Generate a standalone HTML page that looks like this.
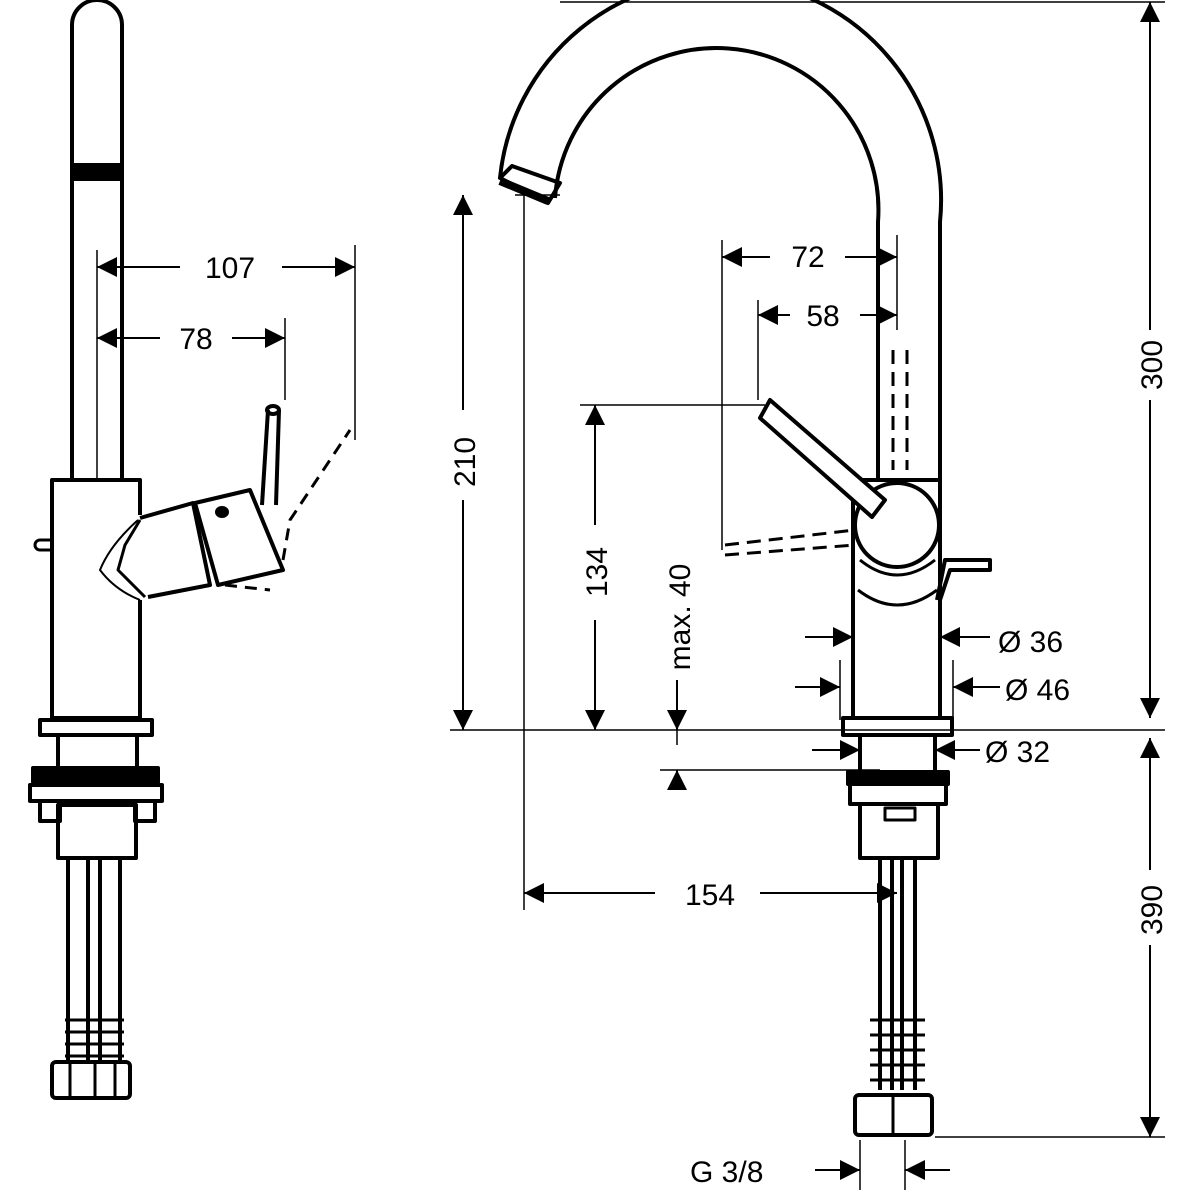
<!DOCTYPE html><html><head><style>html,body{margin:0;background:#fff}svg{display:block}text{font-family:"Liberation Sans",sans-serif;font-size:30px;fill:#000}</style></head><body>
<svg width="1200" height="1200" viewBox="0 0 1200 1200" xmlns="http://www.w3.org/2000/svg">
<defs><marker id="a" viewBox="0 0 10 10" refX="10" refY="5" markerWidth="24" markerHeight="20" markerUnits="userSpaceOnUse" orient="auto-start-reverse"><path d="M0,0L10,5L0,10z"/></marker></defs>
<g fill="none" stroke="#000" stroke-width="4" stroke-linejoin="round">
<!-- LEFT VIEW -->
<path d="M72,480V25A25,25 0 0 1 122,25V480"/>
<rect x="72" y="165" width="50" height="14" fill="#000"/>
<path d="M140,515V480H52V718H140V600"/>
<path d="M52,540H40A5,5 0 0 0 40,550H52" stroke-width="3"/>
<path d="M138,520Q110,545 100,570Q115,590 140,600" stroke-width="2"/>
<path d="M140,520L125,545L118,570L145,597" stroke-width="3"/>
<path d="M140,518L193,503L210,585L148,597"/>
<path d="M195,503L250,490L283,570L218,585Z"/>
<path d="M262,505L268,410M279,410L276,505" stroke-width="4"/>
<ellipse cx="273" cy="410" rx="6" ry="4"/>
<ellipse cx="222" cy="512" rx="5" ry="4" fill="#000"/>
<path d="M225,585L270,590M283,560L290,520L350,430" stroke-dasharray="12,8" stroke-width="3"/>
<path d="M40,720H152V735H40Z"/>
<path d="M58,735V770M137,735V770"/>
<rect x="33" y="768" width="125" height="14" fill="#000"/>
<rect x="30" y="785" width="132" height="16"/>
<rect x="40" y="801" width="20" height="20"/><rect x="135" y="801" width="20" height="20"/>
<rect x="58" y="805" width="78" height="53"/>
<path d="M68,858V1060M88,858V1060M100,858V1060M120,858V1060"/>
<path d="M65,1020H124M65,1032H124M65,1044H124M65,1056H124" stroke-width="3"/>
<rect x="52" y="1062" width="78" height="36" rx="4"/>
<path d="M95,1062V1098M70,1062V1098M115,1062V1098" stroke-width="3"/>
<!-- RIGHT VIEW -->
<path d="M940,480V222A220,220 0 0 0 500,178"/>
<path d="M878,480V222A158,158 0 0 0 555,198"/>
<path d="M500,178L512,166L560,183L548,203Z"/>
<path d="M500,181L548,201" stroke-width="8"/>
<path d="M853,480H940V718H853Z"/>
<path d="M893,350V470M907,350V470" stroke-dasharray="14,8" stroke-width="3"/>
<circle cx="897" cy="525" r="42" fill="#fff"/>
<path d="M860,560Q897,590 935,560M858,590Q897,620 937,590" stroke-width="3"/>
<path d="M770,400L885,500L872,517L760,418Z" fill="#fff"/>
<path d="M940,600L950,570H990V560H945L937,600"/>
<path d="M725,545L855,530M725,555L855,545" stroke-dasharray="14,8" stroke-width="3"/>
<path d="M843,718H952V735H843Z"/>
<path d="M860,735V770M935,735V770"/>
<rect x="848" y="772" width="100" height="12" fill="#000"/>
<rect x="850" y="784" width="96" height="20"/>
<rect x="860" y="804" width="78" height="54"/>
<path d="M885,808H915V820H885Z" stroke-width="3"/>
<path d="M880,858V1090M892,858V1090M902,858V1090M915,858V1090"/>
<path d="M870,1020H925M870,1035H925M870,1050H925M870,1065H925M870,1080H925" stroke-width="3"/>
<rect x="855" y="1095" width="77" height="40" rx="4"/>
<path d="M893,1095V1135" stroke-width="3"/>
</g>
<!-- dimensions -->
<g fill="none" stroke="#000" stroke-width="1.5">
<path d="M97,250V480M355,245V440M285,318V400"/>
<path d="M97,267H180M282,267H355" marker-start="url(#a)" marker-end="url(#a)" stroke-width="2"/>
<path d="M97,338H160M232,338H285" marker-start="url(#a)" marker-end="url(#a)" stroke-width="2"/>
<path d="M560,2H1165M450,730H1165M935,1137H1165M515,195H560M580,405H765"/>
<path d="M1150,2V330M1150,400V718" marker-start="url(#a)" stroke-width="2"/>
<path d="M1150,400V718" marker-end="url(#a)" stroke-width="2"/>
<path d="M1150,738V870M1150,945V1137" stroke-width="2"/>
<path d="M1150,738V760" marker-start="url(#a)" stroke-width="2"/>
<path d="M1150,1110V1137" marker-end="url(#a)" stroke-width="2"/>
<path d="M463,195V410M463,500V730" marker-start="url(#a)" stroke-width="2"/>
<path d="M463,500V730" marker-end="url(#a)" stroke-width="2"/>
<path d="M595,405V525M595,620V730" marker-start="url(#a)" stroke-width="2"/>
<path d="M595,620V730" marker-end="url(#a)" stroke-width="2"/>
<path d="M677,680V730" marker-end="url(#a)" stroke-width="2"/>
<path d="M677,790V770" marker-end="url(#a)" stroke-width="2"/>
<path d="M677,730V745M660,770H880"/>
<path d="M524,195V910M722,240V550M758,300V400M897,235V330"/>
<path d="M722,257H770M845,257H897" marker-start="url(#a)" marker-end="url(#a)" stroke-width="2"/>
<path d="M758,315H790M860,315H897" marker-start="url(#a)" marker-end="url(#a)" stroke-width="2"/>
<path d="M524,893H655M760,893H897" marker-start="url(#a)" marker-end="url(#a)" stroke-width="2"/>
<path d="M805,637H853" marker-end="url(#a)" stroke-width="2"/><path d="M990,637H940" marker-end="url(#a)" stroke-width="2"/>
<path d="M795,687H840" marker-end="url(#a)" stroke-width="2"/><path d="M1000,687H953" marker-end="url(#a)" stroke-width="2"/>
<path d="M840,660V720M953,660V720"/>
<path d="M812,750H860" marker-end="url(#a)" stroke-width="2"/><path d="M980,750H935" marker-end="url(#a)" stroke-width="2"/>
<path d="M860,1140V1190M905,1140V1190"/>
<path d="M815,1170H860" marker-end="url(#a)" stroke-width="2"/><path d="M950,1170H905" marker-end="url(#a)" stroke-width="2"/>
</g>
<text x="230" y="278" text-anchor="middle">107</text>
<text x="196" y="349" text-anchor="middle">78</text>
<text x="808" y="267" text-anchor="middle">72</text>
<text x="823" y="326" text-anchor="middle">58</text>
<text x="710" y="905" text-anchor="middle">154</text>
<text x="998" y="652">Ø 36</text>
<text x="1005" y="700">Ø 46</text>
<text x="985" y="762">Ø 32</text>
<text x="690" y="1182">G 3/8</text>
<text transform="translate(1162,365) rotate(-90)" text-anchor="middle">300</text>
<text transform="translate(1162,910) rotate(-90)" text-anchor="middle">390</text>
<text transform="translate(475,462) rotate(-90)" text-anchor="middle">210</text>
<text transform="translate(607,572) rotate(-90)" text-anchor="middle">134</text>
<text transform="translate(690,617) rotate(-90)" text-anchor="middle">max. 40</text>
</svg></body></html>
